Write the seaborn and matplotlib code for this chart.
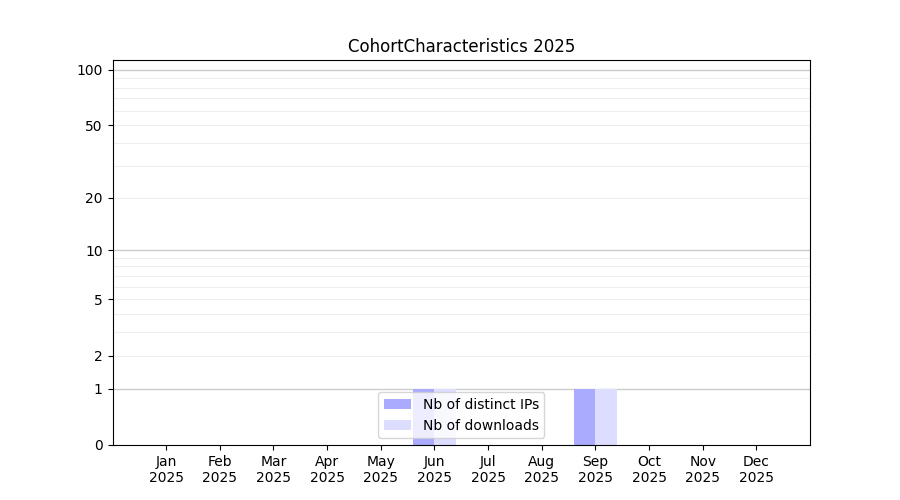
import numpy as np
import pandas as pd
import matplotlib
matplotlib.use("Agg")
import matplotlib.pyplot as plt
import seaborn as sns

# --------------------------------------------------
# Data
# --------------------------------------------------
months = ["Jan", "Feb", "Mar", "Apr", "May", "Jun",
          "Jul", "Aug", "Sep", "Oct", "Nov", "Dec"]
year = "2025"
distinct_ips = [0, 0, 0, 0, 0, 1, 0, 0, 1, 0, 0, 0]
downloads = [0, 0, 0, 0, 0, 1, 0, 0, 1, 0, 0, 0]
y_ticks = [0, 1, 2, 5, 10, 20, 50, 100]

labels = [f"{m}\n{year}" for m in months]
df = pd.DataFrame({
    "month": labels * 2,
    "value": distinct_ips + downloads,
    "series": ["Nb of distinct IPs"] * 12 + ["Nb of downloads"] * 12,
})

# --------------------------------------------------
# Plot
# --------------------------------------------------
fig, ax = plt.subplots(figsize=(9, 5), dpi=100)
sns.barplot(data=df, x="month", y="value", hue="series",
            palette=["#aaaaff", "#ddddff"], width=0.8,
            saturation=1, ax=ax, zorder=2)

ax.set_yscale("function", functions=(lambda v: np.log10(1 + np.maximum(v, 0)),
                                     lambda t: 10 ** t - 1))
ax.set_ylim(0, 113)
ax.set_xlim(-1, 12)
ax.set_yticks(y_ticks)
ax.set_yticklabels([str(t) for t in y_ticks])
ax.minorticks_off()

# grid lines: major decades darker, intermediate values lighter
for v in [2, 3, 4, 5, 6, 7, 8, 9, 20, 30, 40, 50, 60, 70, 80, 90]:
    ax.axhline(v, color="#eeeeee", lw=0.8, zorder=0)
for v in [1, 10, 100]:
    ax.axhline(v, color="#cccccc", lw=1.0, zorder=0)

ax.set_xlabel("")
ax.set_ylabel("")
ax.set_title("CohortCharacteristics 2025")
ax.legend(loc="lower center")

fig.subplots_adjust(left=0.125, right=0.9, top=0.88, bottom=0.11)
fig.savefig("out.png", dpi=100)
